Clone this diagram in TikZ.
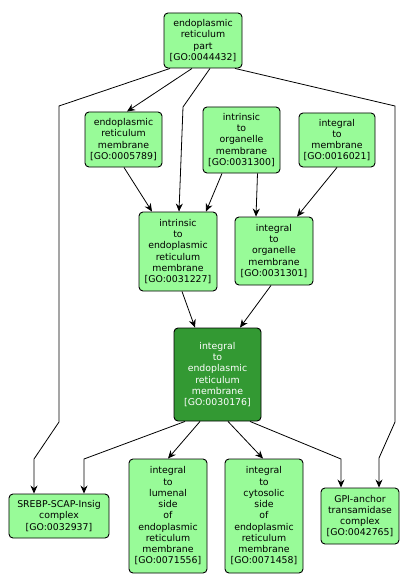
\documentclass[tikz,border=0pt]{standalone}
\usepackage{fontspec}
\setmainfont{DejaVu Sans}
\usetikzlibrary{arrows.meta,calc}
\definecolor{lightgo}{RGB}{152,251,152}
\definecolor{darkgo}{RGB}{51,153,51}
\tikzset{
  goterm/.style={draw=black,line width=0.9bp,rounded corners=4bp,fill=lightgo,align=center,inner sep=0pt,
    font=\fontsize{9.4}{11.3}\selectfont,text=black},
  gofocus/.style={goterm,fill=darkgo,text=white},
  rel/.style={draw=black,line width=0.8bp,-{Stealth[length=8bp,width=7bp]}}
}
\begin{document}
\begin{tikzpicture}[x=1bp,y=-1bp]
\useasboundingbox[fill=white] (0,0) rectangle (409,588);
% nodes
\node[goterm,minimum width=78bp,minimum height=55bp] (erpart) at (203,40.5) {endoplasmic\\reticulum\\part\\{[GO:0044432]}};
\node[goterm,minimum width=77bp,minimum height=55bp] (ermem) at (123.5,139.5) {endoplasmic\\reticulum\\membrane\\{[GO:0005789]}};
\node[goterm,minimum width=77bp,minimum height=66bp] (intorg) at (241.5,140) {intrinsic\\to\\organelle\\membrane\\{[GO:0031300]}};
\node[goterm,minimum width=76bp,minimum height=54bp] (intmem) at (337,140) {integral\\to\\membrane\\{[GO:0016021]}};
\node[goterm,minimum width=78bp,minimum height=79bp] (intrer) at (178,251.5) {intrinsic\\to\\endoplasmic\\reticulum\\membrane\\{[GO:0031227]}};
\node[goterm,minimum width=78bp,minimum height=68bp] (integorg) at (274,251) {integral\\to\\organelle\\membrane\\{[GO:0031301]}};
\node[gofocus,minimum width=87bp,minimum height=93bp] (integer) at (217.5,374.5) {integral\\to\\endoplasmic\\reticulum\\membrane\\{[GO:0030176]}};
\node[goterm,minimum width=100bp,minimum height=44bp] (srebp) at (59,516) {SREBP-SCAP-Insig\\complex\\{[GO:0032937]}};
\node[goterm,minimum width=78bp,minimum height=114bp] (lumen) at (168,516) {integral\\to\\lumenal\\side\\of\\endoplasmic\\reticulum\\membrane\\{[GO:0071556]}};
\node[goterm,minimum width=78bp,minimum height=114bp] (cyto) at (264,516) {integral\\to\\cytosolic\\side\\of\\endoplasmic\\reticulum\\membrane\\{[GO:0071458]}};
\node[goterm,minimum width=78bp,minimum height=56bp] (gpi) at (360,516) {GPI-anchor\\transamidase\\complex\\{[GO:0042765]}};
% bend points
\coordinate (b1) at (59,106);
\coordinate (b2) at (59,422);
\coordinate (b3) at (34,459);
\coordinate (b4) at (183,107);
\coordinate (b5) at (395,106);
\coordinate (b6) at (395,422);
\coordinate (b7) at (379,458);
\coordinate (b8) at (84,459);
\coordinate (b9) at (341,459);
% edges
\draw[rel] ([xshift=-33bp]erpart.south) -- (b1) -- (b2) -- (b3) -- ([xshift=-25bp]srebp.north);
\draw[rel] ([xshift=-11bp]erpart.south) -- ([xshift=3.5bp]ermem.north);
\draw[rel] ([xshift=7bp]erpart.south) -- (b4) -- ([xshift=1bp]intrer.north);
\draw[rel] ([xshift=32bp]erpart.south) -- (b5) -- (b6) -- (b7) -- ([xshift=19bp]gpi.north);
\draw[rel] ([xshift=0.5bp]ermem.south) -- ([xshift=-26bp]intrer.north);
\draw[rel] ([xshift=-19.5bp]intorg.south) -- ([xshift=28bp]intrer.north);
\draw[rel] ([xshift=16bp]intorg.south) -- ([xshift=-18bp]integorg.north);
\draw[rel] (intmem.south) -- ([xshift=23bp]integorg.north);
\draw[rel] ([xshift=4bp]intrer.south) -- ([xshift=-22.5bp]integer.north);
\draw[rel] ([xshift=-3bp]integorg.south) -- ([xshift=22.5bp]integer.north);
\draw[rel] ([xshift=-32.5bp]integer.south) -- (b8) -- ([xshift=25bp]srebp.north);
\draw[rel] ([xshift=-17.5bp]integer.south) -- (lumen.north);
\draw[rel] ([xshift=10.5bp]integer.south) -- ([xshift=-1bp]cyto.north);
\draw[rel] ([xshift=32.5bp]integer.south) -- (b9) -- ([xshift=-19bp]gpi.north);
\end{tikzpicture}
\end{document}
